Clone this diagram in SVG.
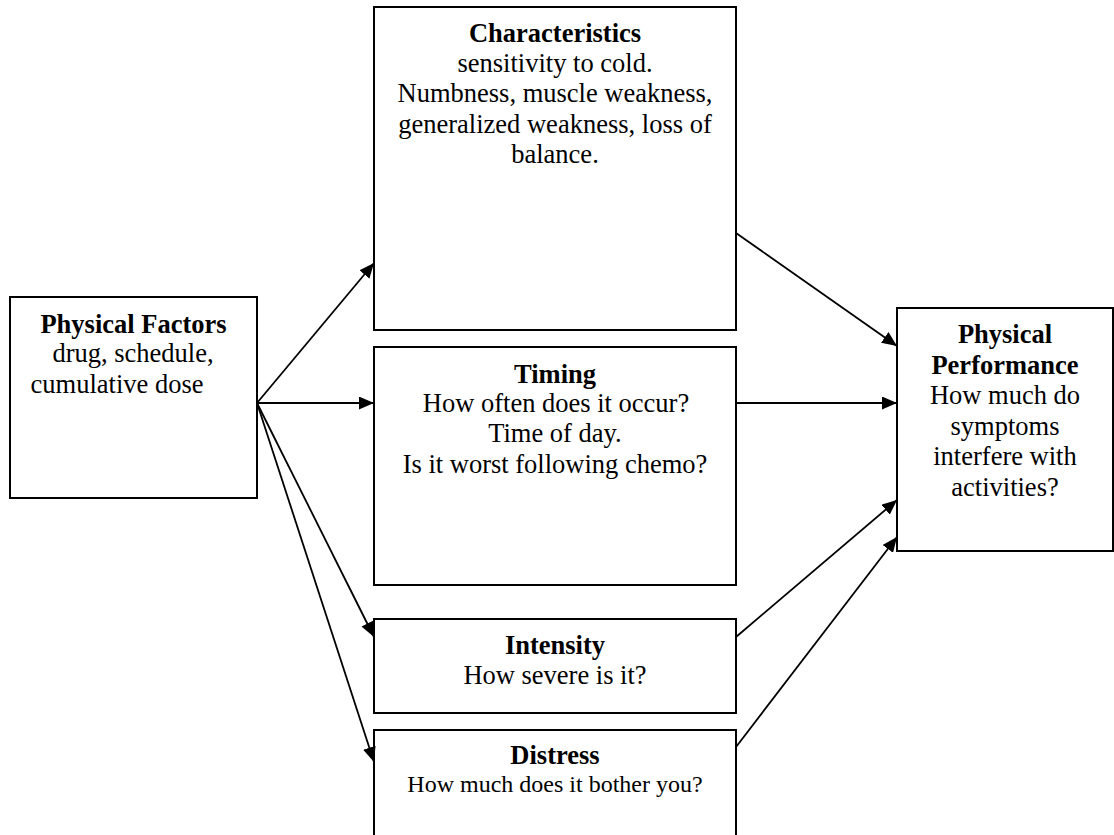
<svg xmlns="http://www.w3.org/2000/svg" width="1114" height="835" viewBox="0 0 1114 835">
<style>
.box{fill:#fff;stroke:#000;stroke-width:2}
text{font-family:"Liberation Serif","Times New Roman",serif;font-size:26.5px;fill:#000;text-anchor:middle}
.b{font-weight:bold}
.s{font-size:24px}
.c line{stroke:#000;stroke-width:1.8;marker-end:url(#ah)}
</style>
<defs>
<marker id="ah" markerUnits="userSpaceOnUse" markerWidth="16" markerHeight="13" refX="15" refY="6.5" orient="auto">
<path d="M0,0 L15,6.5 L0,13 z" fill="#000"/>
</marker>
</defs>
<rect width="1114" height="835" fill="#fff"/>
<g id="n-physical-factors">
<rect class="box" x="10" y="297" width="247" height="201"/>
<text class="b" x="133.5" y="333">Physical Factors</text>
<text x="133" y="362">drug, schedule,</text>
<text x="117" y="393">cumulative dose</text>
</g>
<g id="n-characteristics">
<rect class="box" x="374" y="7" width="362" height="323"/>
<text class="b" x="555" y="42">Characteristics</text>
<text x="555" y="72">sensitivity to cold.</text>
<text x="555" y="102">Numbness, muscle weakness,</text>
<text x="555" y="133">generalized weakness, loss of</text>
<text x="555" y="163">balance.</text>
</g>
<g id="n-timing">
<rect class="box" x="374" y="347" width="362" height="238"/>
<text class="b" x="555" y="383">Timing</text>
<text x="556" y="412">How often does it occur?</text>
<text x="555" y="442">Time of day.</text>
<text x="555" y="473">Is it worst following chemo?</text>
</g>
<g id="n-intensity">
<rect class="box" x="374" y="619" width="362" height="94"/>
<text class="b" x="555" y="654">Intensity</text>
<text x="555" y="684">How severe is it?</text>
</g>
<g id="n-distress">
<rect class="box" x="374" y="730" width="362" height="120"/>
<text class="b" x="555" y="764">Distress</text>
<text class="s" x="555" y="792">How much does it bother you?</text>
</g>
<g id="n-physical-performance">
<rect class="box" x="897" y="308" width="216" height="243"/>
<text class="b" x="1005" y="343">Physical</text>
<text class="b" x="1005" y="374">Performance</text>
<text x="1005" y="404">How much do</text>
<text x="1005" y="435">symptoms</text>
<text x="1005" y="465">interfere with</text>
<text x="1005" y="496">activities?</text>
</g>
<g id="connectors" class="c">
<line x1="257" y1="403" x2="374" y2="263"/>
<line x1="257" y1="403" x2="374" y2="403"/>
<line x1="257" y1="403" x2="374" y2="637"/>
<line x1="257" y1="403" x2="374" y2="762"/>
<line x1="736" y1="233" x2="897" y2="346"/>
<line x1="736" y1="403" x2="897" y2="403"/>
<line x1="736" y1="637" x2="897" y2="500"/>
<line x1="736" y1="747" x2="897" y2="537"/>
</g>
</svg>
